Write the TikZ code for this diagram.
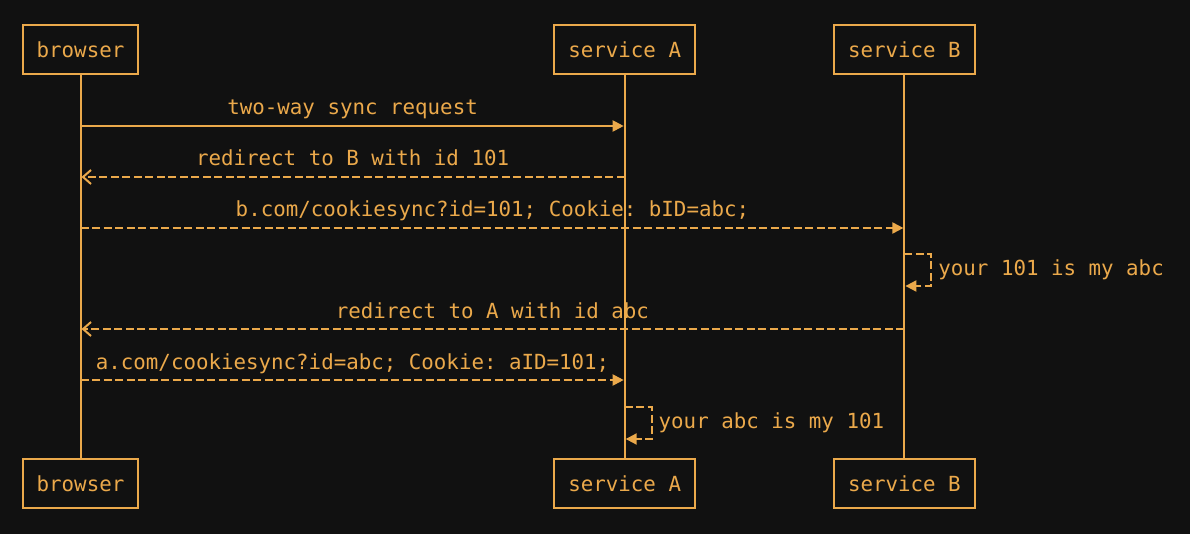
\documentclass[tikz,border=0pt]{standalone}
\usepackage{fontspec}
\setmonofont{DejaVu Sans Mono}
\usetikzlibrary{positioning,arrows.meta}
\definecolor{bg}{HTML}{111111}
\definecolor{amber}{HTML}{EBA94B}
\begin{document}
\begin{tikzpicture}[x=1pt,y=-1pt,line width=2pt,
    actor/.style={draw=amber,fill=bg,text=amber,font=\ttfamily\fontsize{20.8}{24}\selectfont,inner xsep=14pt,minimum height=49pt},
    lbl/.style={text=amber,font=\ttfamily\fontsize{20.8}{24}\selectfont,anchor=base,yshift=11pt,inner sep=0pt},
    note/.style={text=amber,font=\ttfamily\fontsize{20.8}{24}\selectfont,right,inner xsep=6pt},
    dashline/.style={dash pattern=on 8pt off 3.5pt},
    call/.style={draw=amber,-{Triangle[length=11pt,width=11pt]},shorten >=1pt},
    fwd/.style={call,dashline},
    back/.style={draw=amber,dashline,-{Straight Barb[length=8pt,width=14pt]},shorten >=1pt}]
    \fill[bg] (0,0) rectangle (1190,534);
    \useasboundingbox (0,0) rectangle (1190,534);
    % participants
    \node[actor] (browserT) at (80.5,49.5) {browser};
    \node[actor,right=414pt of browserT] (svcAT) {service A};
    \node[actor,right=137pt of svcAT] (svcBT) {service B};
    \node[actor,below=383pt of browserT] (browserB) {browser};
    \node[actor,below=383pt of svcAT] (svcAB) {service A};
    \node[actor,below=383pt of svcBT] (svcBB) {service B};
    % lifelines
    \draw[amber] (browserT) -- (browserB);
    \draw[amber] (svcAT) -- (svcAB);
    \draw[amber] (svcBT) -- (svcBB);
    % messages
    \draw[call] (browserT |- 0,126) -- node[lbl] {two-way sync request} (svcAT |- 0,126);
    \draw[back] (svcAT |- 0,177) -- node[lbl] {redirect to B with id 101} (browserT |- 0,177);
    \draw[fwd] (browserT |- 0,228) -- node[lbl] {b.com/cookiesync?id=101; Cookie: bID=abc;} (svcBT |- 0,228);
    \draw[fwd] (svcBT |- 0,254) -- ++(27,0) -- node[note] {your 101 is my abc} ++(0,32) -- (svcBT |- 0,286);
    \draw[back] (svcBT |- 0,329) -- node[lbl] {redirect to A with id abc} (browserT |- 0,329);
    \draw[fwd] (browserT |- 0,380) -- node[lbl] {a.com/cookiesync?id=abc; Cookie: aID=101;} (svcAT |- 0,380);
    \draw[fwd] (svcAT |- 0,407) -- ++(27,0) -- node[note] {your abc is my 101} ++(0,32) -- (svcAT |- 0,439);
\end{tikzpicture}
\end{document}
